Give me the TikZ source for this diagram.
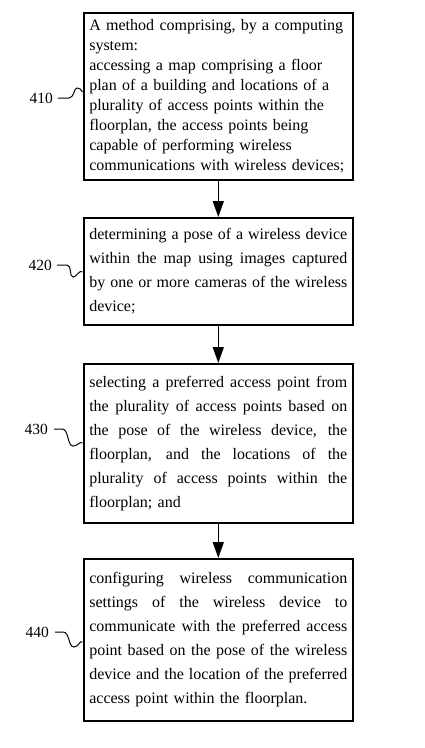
\documentclass[tikz,border=0pt]{standalone}
\usepackage{fontspec}
\setmainfont{Liberation Serif}
\usetikzlibrary{arrows.meta}
\newcommand{\jl}[1]{\leavevmode\hbox to 258pt{\spaceskip=0.25em plus 1fil minus 0.1em\relax #1}}
\begin{document}
\begin{tikzpicture}[x=1pt,y=-1pt,
  stepbox/.style={draw,line width=1.6pt,rectangle,minimum width=269pt,inner xsep=5.5pt,inner ysep=0pt,text width=258pt,font=\fontsize{16}{24}\selectfont,anchor=north west,align=left},
  lbl/.style={font=\fontsize{15.5}{18}\selectfont,inner sep=0pt},
  arr/.style={line width=1.5pt,-{Triangle[length=16pt,width=11pt]}},
  sq/.style={line width=1pt}]
\useasboundingbox (0,0) rectangle (424,748);
\node[stepbox,minimum height=167pt,font=\fontsize{16}{20}\selectfont] (b1) at (83,12)
 {A method comprising, by a computing\\ system:\\
 accessing a map comprising a floor\\ plan of a building and locations of a\\ plurality of access points within the\\ floorplan, the access points being\\ capable of performing wireless\\ communications with wireless devices;};
\node[stepbox,minimum height=107pt] (b2) at (83,217)
 {\jl{determining a pose of a wireless device}\\
  \jl{within the map using images captured}\\
  \jl{by one or more cameras of the wireless}\\
  device;};
\node[stepbox,minimum height=159pt] (b3) at (83,363)
 {\jl{selecting a preferred access point from}\\
  \jl{the plurality of access points based on}\\
  \jl{the pose of the wireless device, the}\\
  \jl{floorplan, and the locations of the}\\
  \jl{plurality of access points within the}\\
  floorplan; and};
\node[stepbox,minimum height=162pt] (b4) at (83,558)
 {\jl{configuring wireless communication}\\
  \jl{settings of the wireless device to}\\
  \jl{communicate with the preferred access}\\
  \jl{point based on the pose of the wireless}\\
  \jl{device and the location of the preferred}\\
  access point within the floorplan.};
\draw[arr] (b1.south) -- (b2.north);
\draw[arr] (b2.south) -- (b3.north);
\draw[arr] (b3.south) -- (b4.north);
\node[lbl,anchor=east] (l1) at (53,98) {410};
\node[lbl,anchor=east] (l2) at (52,265) {420};
\node[lbl,anchor=east] (l3) at (48,429) {430};
\node[lbl,anchor=east] (l4) at (49,632) {440};
\coordinate (c1) at (82.5,92);
\coordinate (c2) at (82.5,272);
\coordinate (c3) at (82.5,443);
\coordinate (c4) at (82.5,642);
\draw[sq] ([xshift=5pt]l1.east) -- ++(11,0) .. controls +(5,0) and +(-3,0) .. ++(8,-10) .. controls +(2,0) and +(-1,-3) .. (c1);
\draw[sq] ([xshift=5pt]l2.east) -- ++(10,0) .. controls +(5,0) and +(-4,0) .. ++(6,12) .. controls +(4,0) and +(-3,-3) .. (c2);
\draw[sq] ([xshift=6pt]l3.east) -- ++(8,0) .. controls +(7,0) and +(-6,0) .. ++(11,17) .. controls +(5,0) and +(-3,-2) .. (c3);
\draw[sq] ([xshift=6pt]l4.east) -- ++(8,0) .. controls +(7,0) and +(-6,0) .. ++(11,15) .. controls +(5,0) and +(-3,-2) .. (c4);
\end{tikzpicture}
\end{document}
